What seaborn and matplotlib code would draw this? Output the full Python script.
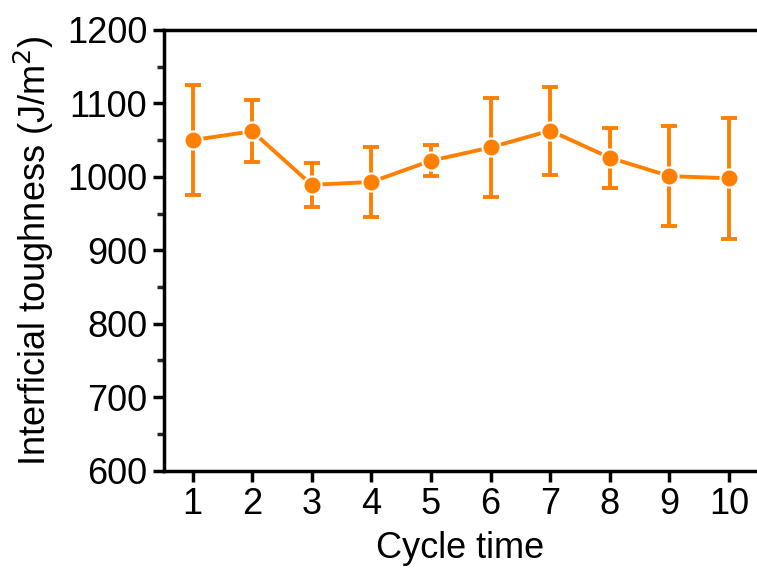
import matplotlib
matplotlib.use("Agg")
import matplotlib.pyplot as plt
import seaborn as sns
import pandas as pd
from matplotlib.ticker import MultipleLocator

cycles = [1, 2, 3, 4, 5, 6, 7, 8, 9, 10]
toughness = [1050, 1062, 989, 993, 1022, 1040, 1063, 1026, 1001, 998]
errors = [75, 42, 30, 48, 21, 67, 60, 41, 68, 82]

sns.set_theme(style="ticks")
plt.rcParams['font.family'] = ['Liberation Sans', 'DejaVu Sans']

color = "#FF8000"
df = pd.DataFrame({"cycle": cycles, "toughness": toughness, "err": errors})

fig = plt.figure(figsize=(7.57, 5.76), dpi=100)
ax = fig.add_axes([0.2166, 0.183, 0.7834, 0.765])

ax.errorbar(df["cycle"], df["toughness"], yerr=df["err"], fmt="none",
            ecolor=color, elinewidth=2.8, capsize=5.5, capthick=2.8, zorder=2)
sns.lineplot(data=df, x="cycle", y="toughness", ax=ax, color=color,
             linewidth=2.8, marker="o", markersize=13, markeredgecolor="white",
             markeredgewidth=1.5, zorder=3)

ax.set_xlim(0.52, 10.47)
ax.set_ylim(600, 1200)
ax.set_xticks(cycles)
ax.yaxis.set_major_locator(MultipleLocator(100))
ax.yaxis.set_minor_locator(MultipleLocator(50))

for s in ["left", "bottom", "top"]:
    ax.spines[s].set_linewidth(2.5)
    ax.spines[s].set_color("black")
ax.spines["right"].set_visible(False)

ax.tick_params(axis="both", which="major", direction="out", length=8, width=2.5,
               labelsize=26, colors="black", pad=4)
ax.tick_params(axis="y", which="minor", direction="out", length=5, width=2.5)
ax.tick_params(axis="x", which="both", top=False)

ax.set_xlabel("Cycle time", fontsize=26, labelpad=6, color="black")
ax.set_ylabel("Interficial toughness (J/m$^2$)", fontsize=26, labelpad=8, color="black")

fig.savefig("out.png", dpi=100)
